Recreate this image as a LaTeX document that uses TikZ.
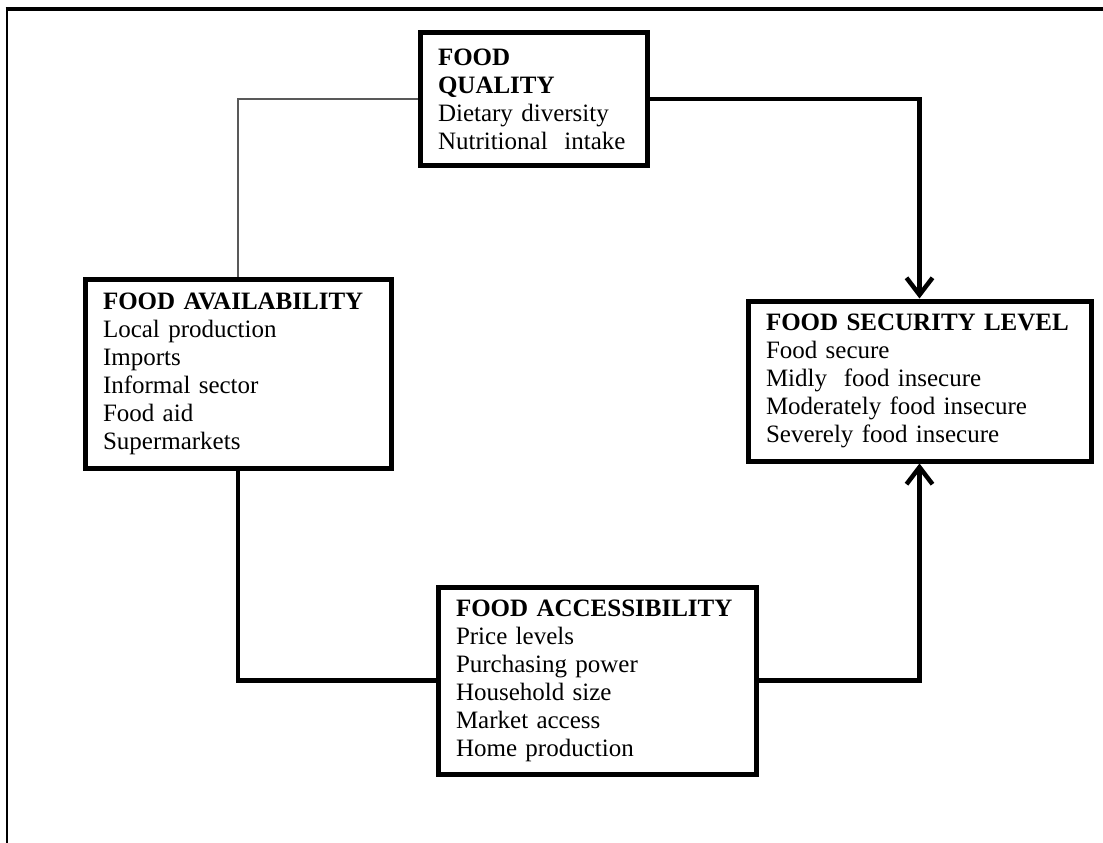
\documentclass[tikz,border=0pt]{standalone}
\usepackage{fontspec}
\setmainfont{Liberation Serif}
\usetikzlibrary{arrows.meta,shadows}
\begin{document}
\begin{tikzpicture}
    [
    x=1pt,y=-1pt,
    box/.style={draw,line width=5pt,rectangle,fill=white,align=left,inner xsep=18pt,inner ysep=0pt,
      font=\fontsize{25}{28}\selectfont,
      drop shadow={shadow xshift=2pt,shadow yshift=-2pt,opacity=0.3}},
    link/.style={line width=4.5pt},
    faint/.style={line width=1.8pt,black!65},
    arrowhead/.style={-{Straight Barb[length=17pt,width=26pt]}}
    ]
    \useasboundingbox (0,0) rectangle (1103,843);
    \draw [line width=3.5pt] (5.5,9) -- (1103,9);
    \draw [line width=2pt] (7,9) -- (7,843);
    \node (quality) at (533.5,99) [box,text width=191pt,minimum height=132pt]
      {\textbf{FOOD}\\\textbf{QUALITY}\\Dietary diversity\\Nutritional\ \ intake};
    \node (availability) at (238,373.5) [box,text width=270pt,minimum height=189pt]
      {\textbf{FOOD AVAILABILITY}\\Local production\\Imports\\Informal sector\\Food aid\\Supermarkets};
    \node (security) at (919.5,381) [box,text width=307pt,minimum height=160pt]
      {\textbf{FOOD SECURITY LEVEL}\\Food secure\\Midly\ \ food insecure\\Moderately food insecure\\Severely food insecure};
    \node (access) at (597,680.5) [box,text width=282pt,minimum height=187pt]
      {\textbf{FOOD ACCESSIBILITY}\\Price levels\\Purchasing power\\Household size\\Market access\\Home production};
    \draw [faint] (quality.west) -| (availability.north);
    \draw [link,arrowhead] (quality.east) -| (security.north);
    \draw [link] (availability.south) |- (access.west);
    \draw [link,arrowhead] (access.east) -| (security.south);
\end{tikzpicture}
\end{document}
